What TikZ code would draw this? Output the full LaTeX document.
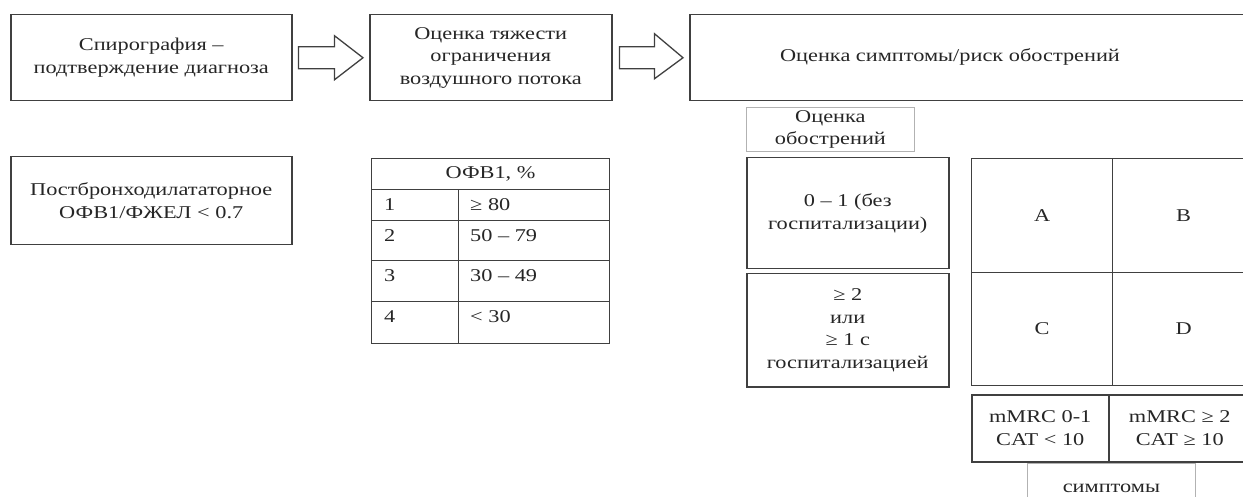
\documentclass[tikz,border=0pt]{standalone}
\usepackage{fontspec}
\setmainfont{Liberation Serif}[FakeStretch=1.24]
\usetikzlibrary{calc}
\begin{document}
\begin{tikzpicture}[x=1pt,y=-1pt,
  font=\fontsize{18}{22.5}\selectfont,
  txt/.style={text=black!85, align=center, inner sep=0pt},
  frame/.style={draw=black!75, line width=1.5pt, fill=white, inner sep=0pt, anchor=north west},
  softframe/.style={draw=black!30, line width=0.8pt, inner sep=0pt, anchor=north west},
  cell/.style={draw=black!75, line width=1.1pt, inner sep=0pt, anchor=north west},
  blockarrow/.style={draw=black!75, line width=1.3pt, fill=white, line join=miter}]
\useasboundingbox (0,0) rectangle (1243,497);

% top row: three stages
\node[frame, minimum width=281, minimum height=86] (spiro) at (10,14) {};
\node[txt] at (spiro) {Спирография –\\подтверждение диагноза};
\node[frame, minimum width=242, minimum height=86] (est) at (369,14) {};
\node[txt] at (est) {Оценка тяжести\\ограничения\\воздушного потока};
\node[frame, minimum width=560, minimum height=86] (risk) at (689,14) {};
\node[txt] (risktxt) at (950,57) {Оценка симптомы/риск обострений};

% block arrows between the stages
\draw[blockarrow] ($(spiro.east)+(6,-11)$) -- ($(spiro.east)+(42,-11)$)
  -- ($(spiro.east)+(42,-22)$) -- ($(est.west)+(-6,0)$)
  -- ($(spiro.east)+(42,22)$) -- ($(spiro.east)+(42,11)$)
  -- ($(spiro.east)+(6,11)$) -- cycle;
\draw[blockarrow] ($(est.east)+(7,-11)$) -- ($(est.east)+(42,-11)$)
  -- ($(est.east)+(42,-24)$) -- ($(risk.west)+(-6,0)$)
  -- ($(est.east)+(42,21)$) -- ($(est.east)+(42,11)$)
  -- ($(est.east)+(7,11)$) -- cycle;

% diagnosis criterion
\node[frame, minimum width=281, minimum height=88] (post) at (10,156) {};
\node[txt] at (post) {Постбронходилататорное\\ОФВ1/ФЖЕЛ < 0.7};

% FEV1 grades table
\node[cell, minimum width=238, minimum height=31] (head) at (371,158) {};
\node[txt] at (head) {ОФВ1, \%};
\node[cell, minimum width=87, minimum height=31] (g1) at (371,189) {};
\node[cell, minimum width=151, minimum height=31] (v1) at (458,189) {};
\node[cell, minimum width=87, minimum height=40] (g2) at (371,220) {};
\node[cell, minimum width=151, minimum height=40] (v2) at (458,220) {};
\node[cell, minimum width=87, minimum height=41] (g3) at (371,260) {};
\node[cell, minimum width=151, minimum height=41] (v3) at (458,260) {};
\node[cell, minimum width=87, minimum height=42] (g4) at (371,301) {};
\node[cell, minimum width=151, minimum height=42] (v4) at (458,301) {};
\foreach \r/\g/\v in {1/1/{≥ 80}, 2/2/{50 – 79}, 3/3/{30 – 49}, 4/4/{< 30}} {
  \node[txt, anchor=west] at ($(g\r.north west)+(13,16)$) {\g};
  \node[txt, anchor=west] at ($(v\r.north west)+(12,16)$) {\v};
}

% exacerbation history
\node[softframe, minimum width=168, minimum height=44] (exh) at (746,107) {};
\node[txt] at (exh) {Оценка\\обострений};
\node[frame, minimum width=202, minimum height=111] (ex1) at (746,157) {};
\node[txt] at (ex1) {0 – 1 (без\\госпитализации)};
\node[frame, minimum width=202, minimum height=113] (ex2) at (746,273) {};
\node[txt] at (ex2) {≥ 2\\или\\≥ 1 с\\госпитализацией};

% ABCD groups
\node[cell, minimum width=141, minimum height=114] (ga) at (971,158) {};
\node[txt] at (ga) {A};
\node[cell, minimum width=138, minimum height=114] (gb) at (1112,158) {};
\node[txt] at ($(gb.center)+(2,0)$) {B};
\node[cell, minimum width=141, minimum height=113] (gc) at (971,272) {};
\node[txt] at (gc) {C};
\node[cell, minimum width=138, minimum height=113] (gd) at (1112,272) {};
\node[txt] at ($(gd.center)+(2,0)$) {D};

% symptom scores
\node[frame, minimum width=137, minimum height=67] (s1) at (971,394) {};
\node[txt] at (s1) {mMRC 0-1\\CAT < 10};
\node[frame, minimum width=142, minimum height=67] (s2) at (1108,394) {};
\node[txt] at (s2) {mMRC ≥ 2\\CAT ≥ 10};
\node[softframe, minimum width=168, minimum height=44] (sym) at (1027,463) {};
\node[txt] at ($(sym.north)+(0,25)$) {симптомы};
\end{tikzpicture}
\end{document}
